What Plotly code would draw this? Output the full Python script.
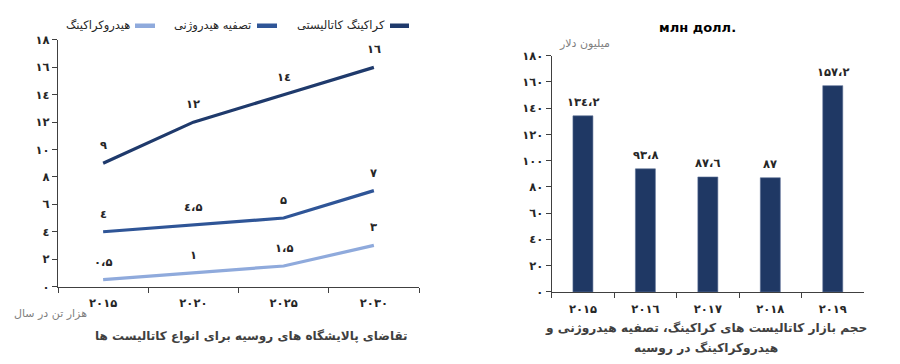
import plotly.graph_objects as go

# ---------------- data ----------------
years_line = ["2015", "2020", "2025", "2030"]
fcc = [9, 12, 14, 16]            # کراکینگ کاتالیستی
hydrotreat = [4, 4.5, 5, 7]      # تصفیه هیدروژنی
hydrocrack = [0.5, 1, 1.5, 3]    # هیدروکراکینگ
series_names = ["کراکینگ کاتالیستی", "تصفیه هیدروژنی", "هیدروکراکینگ"]

years_bar = ["2015", "2016", "2017", "2018", "2019"]
market = [134.2, 93.8, 87.6, 87, 157.2]

left_yticks = [0, 2, 4, 6, 8, 10, 12, 14, 16, 18]
right_yticks = [0, 20, 40, 60, 80, 100, 120, 140, 160, 180]

# ---------------- helpers ----------------
DIG = {"0": "۰", "1": "۱", "2": "۲", "3": "۳", "4": "٤", "5": "۵",
       "6": "٦", "7": "۷", "8": "۸", "9": "۹", ".": "،"}


def fa(v):
    s = str(v)
    if isinstance(v, float) and v.is_integer():
        s = str(int(v))
    return "".join(DIG.get(c, c) for c in s)


FONT = "DejaVu Sans"
c_dark = "#1F3A6C"
c_mid = "#2F5597"
c_light = "#8FAADC"
c_bar = "#1F3864"
axis_col = "#404040"
tick_font = dict(family=FONT, size=11.5, color="#262626")

cats_line = [fa(y) for y in years_line]
cats_bar = [fa(y) for y in years_bar]

fig = go.Figure()

colors = [c_dark, c_mid, c_light]
for name, vals, col in zip(series_names, [fcc, hydrotreat, hydrocrack], colors):
    fig.add_trace(go.Scatter(
        x=cats_line, y=vals, mode="lines", name=name,
        line=dict(color=col, width=3.2), xaxis="x", yaxis="y",
        showlegend=False, hoverinfo="skip"))
    for xv, yv in zip(cats_line, vals):
        fig.add_annotation(x=xv, y=yv, xref="x", yref="y", text="<b>" + fa(yv) + "</b>",
                           showarrow=False, yshift=18,
                           font=dict(family=FONT, size=11.5, color="#262626"))

fig.add_trace(go.Bar(
    x=cats_bar, y=market, xaxis="x2", yaxis="y2", showlegend=False,
    marker=dict(color=c_bar, line=dict(color="#5A6F96", width=0.6)),
    hoverinfo="skip"))
for xv, yv in zip(cats_bar, market):
    fig.add_annotation(x=xv, y=yv, xref="x2", yref="y2", text="<b>" + fa(yv) + "</b>",
                       showarrow=False, yshift=14,
                       font=dict(family=FONT, size=11.5, color="#262626"))

# ---------------- custom RTL legend ----------------
legend_items = [
    (series_names[0], c_dark, 390, 409, 387),
    (series_names[1], c_mid, 257, 277, 253),
    (series_names[2], c_light, 135, 155, 132),
]
for text, col, x0, x1, xt in legend_items:
    fig.add_shape(type="line", xref="paper", yref="paper",
                  x0=x0 / 900, x1=x1 / 900, y0=1 - 19.5 / 364, y1=1 - 19.5 / 364,
                  line=dict(color=col, width=4.5))
    fig.add_annotation(x=xt / 900, y=1 - 19.5 / 364, xref="paper", yref="paper",
                       xanchor="right", yanchor="middle", text=text,
                       showarrow=False,
                       font=dict(family=FONT, size=11.5, color="#262626"))

# ---------------- texts ----------------
fig.add_annotation(x=12 / 900, y=1 - 319 / 364, xref="paper", yref="paper",
                   xanchor="left", yanchor="middle", text="هزار تن در سال",
                   showarrow=False, font=dict(family=FONT, size=11, color="#7F7F7F"))
fig.add_annotation(x=251 / 900, y=1 - 342.5 / 364, xref="paper", yref="paper",
                   xanchor="center", yanchor="middle",
                   text="<b>تقاضای پالایشگاه های روسیه برای انواع کاتالیست ها</b>",
                   showarrow=False, font=dict(family=FONT, size=12, color="#404040"))
fig.add_annotation(x=697 / 900, y=1 - 21 / 364, xref="paper", yref="paper",
                   xanchor="center", yanchor="middle", text="<b>млн долл.</b>",
                   showarrow=False, font=dict(family=FONT, size=13, color="#000000"))
fig.add_annotation(x=557 / 900, y=1 - 38 / 364, xref="paper", yref="paper",
                   xanchor="left", yanchor="middle", text="میلیون دلار",
                   showarrow=False, font=dict(family=FONT, size=11, color="#7F7F7F"))
fig.add_annotation(x=706 / 900, y=1 - 334 / 364, xref="paper", yref="paper",
                   xanchor="center", yanchor="middle",
                   text="<b>حجم بازار کاتالیست های کراکینگ، تصفیه هیدروژنی و</b>",
                   showarrow=False, font=dict(family=FONT, size=12.2, color="#404040"))
fig.add_annotation(x=706 / 900, y=1 - 355 / 364, xref="paper", yref="paper",
                   xanchor="center", yanchor="middle",
                   text="<b>هیدروکراکینگ در روسیه</b>",
                   showarrow=False, font=dict(family=FONT, size=12.2, color="#404040"))

# ---------------- axes ----------------
common_x = dict(type="category", showline=True, linecolor=axis_col, linewidth=1.3,
                ticks="outside", ticklen=5, tickcolor=axis_col, tickson="boundaries",
                showgrid=False, zeroline=False, tickfont=tick_font, fixedrange=True,
                ticklabelstandoff=6)
common_y = dict(showline=True, linecolor=axis_col, linewidth=1.3, ticks="outside",
                ticklen=5, tickcolor=axis_col, showgrid=False, zeroline=False,
                tickfont=tick_font, fixedrange=True)

fig.update_layout(
    width=900, height=364, margin=dict(l=0, r=0, t=0, b=0),
    paper_bgcolor="white", plot_bgcolor="white",
    font=dict(family=FONT),
    bargap=0.68,
    xaxis=dict(common_x, domain=[58 / 900, 419 / 900], anchor="y",
               categoryorder="array", categoryarray=cats_line,
               tickvals=cats_line, ticktext=["<b>" + c + "</b>" for c in cats_line],
               range=[-0.5, len(cats_line) - 0.5]),
    yaxis=dict(common_y, domain=[1 - 290.7 / 364, 1 - 34.3 / 364], anchor="x",
               range=[0, 18], tickvals=left_yticks,
               ticktext=["<b>" + fa(v) + "</b>" for v in left_yticks]),
    xaxis2=dict(common_x, domain=[551.7 / 900, 864 / 900], anchor="y2",
                categoryorder="array", categoryarray=cats_bar,
                tickvals=cats_bar, ticktext=["<b>" + c + "</b>" for c in cats_bar],
                range=[-0.5, len(cats_bar) - 0.5]),
    yaxis2=dict(common_y, domain=[1 - 296.3 / 364, 1 - 50.7 / 364], anchor="x2",
                range=[0, 180], tickvals=right_yticks,
                ticktext=["<b>" + fa(v) + "</b>" for v in right_yticks]),
)

fig.write_html("out.html")
